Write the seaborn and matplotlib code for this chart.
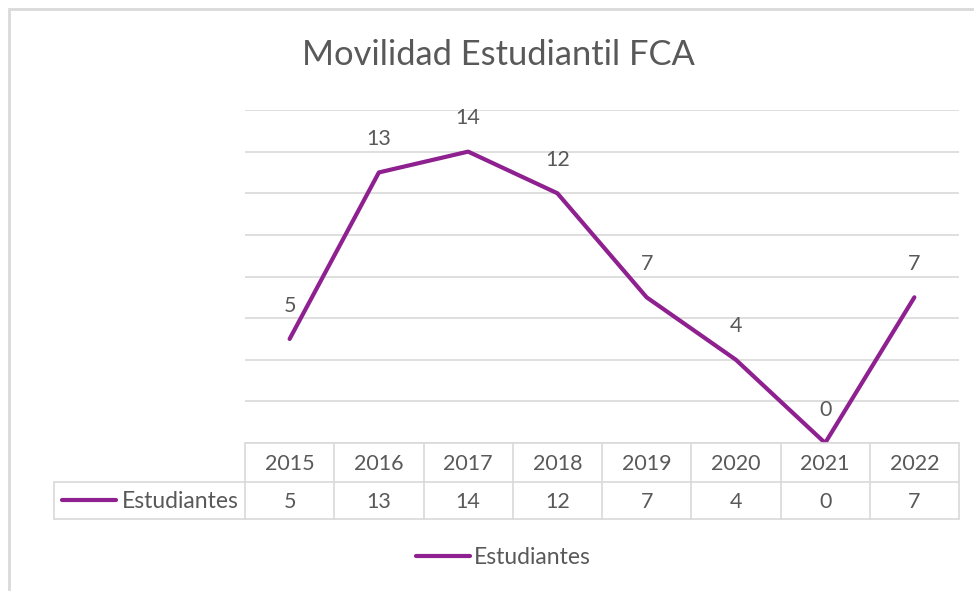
import matplotlib
matplotlib.use("Agg")
import matplotlib.pyplot as plt
import matplotlib.transforms as mtransforms
from matplotlib.lines import Line2D
from matplotlib.patches import Rectangle
import seaborn as sns
import pandas as pd

years = ["2015", "2016", "2017", "2018", "2019", "2020", "2021", "2022"]
estudiantes = [5, 13, 14, 12, 7, 4, 0, 7]
series_name = "Estudiantes"
title = "Movilidad Estudiantil FCA"

sns.set_style("white")
plt.rcParams["font.family"] = ["Lato", "DejaVu Sans"]

W, H = 974, 591
LINE = "#8E2090"
TXT = "#595959"
GRID = "#d9d9d9"

fig = plt.figure(figsize=(W / 100, H / 100), dpi=100)

def fx(px):
    return px / W

def fy(py):
    return 1 - py / H

ax_left, ax_right, ax_top, ax_bot = 245, 959, 110, 443
ax = fig.add_axes([fx(ax_left), fy(ax_bot), fx(ax_right - ax_left), (ax_bot - ax_top) / H])

df = pd.DataFrame({"Año": years, series_name: estudiantes})
sns.lineplot(data=df, x="Año", y=series_name, ax=ax, color=LINE, linewidth=3.0,
             solid_joinstyle="round", solid_capstyle="round", sort=False)
ax.set_xlim(-0.5, len(years) - 0.5)
ax.set_ylim(0, 16)
ax.set_yticks(range(0, 17, 2))
ax.grid(axis="y", color=GRID, linewidth=1.2)
ax.grid(axis="x", visible=False)
ax.tick_params(left=False, bottom=False, labelleft=False, labelbottom=False)
ax.set_xlabel("")
ax.set_ylabel("")
for s in ax.spines.values():
    s.set_visible(False)

for i, v in enumerate(estudiantes):
    ax.annotate(str(v), (i, v), xytext=(0, 24), textcoords="offset points",
                ha="center", va="center", fontsize=15.5, color=TXT)

# title
fig.text(fx(498), fy(55), title, ha="center", va="center", fontsize=24.8, color=TXT)

# data table
blend = mtransforms.blended_transform_factory(ax.transData, fig.transFigure)
y_top, y_mid, y_bot = 443, 482, 519
tab_left = 54

def hline(x0, x1, y):
    fig.add_artist(Line2D([fx(x0), fx(x1)], [fy(y), fy(y)], color=GRID, linewidth=1.2))

def vline(x, y0, y1):
    fig.add_artist(Line2D([fx(x), fx(x)], [fy(y0), fy(y1)], color=GRID, linewidth=1.2))

hline(ax_left, ax_right, y_top)
hline(tab_left, ax_right, y_mid)
hline(tab_left, ax_right, y_bot)
vline(tab_left, y_mid, y_bot)
n = len(years)
for k in range(n + 1):
    xpx = ax_left + k * (ax_right - ax_left) / n
    vline(xpx, y_top, y_bot)

for i, (yr, v) in enumerate(zip(years, estudiantes)):
    fig.text(i, fy((y_top + y_mid) / 2 + 1), yr, transform=blend, ha="center", va="center",
             fontsize=15.5, color=TXT)
    fig.text(i, fy((y_mid + y_bot) / 2 + 1), str(v), transform=blend, ha="center", va="center",
             fontsize=15.5, color=TXT)

# row label with legend key
fig.add_artist(Line2D([fx(62), fx(116)], [fy(500), fy(500)], color=LINE, linewidth=3.0,
                      solid_capstyle="round"))
fig.text(fx(122), fy(501), series_name, ha="left", va="center", fontsize=16.5, color=TXT)

# legend
fig.add_artist(Line2D([fx(416), fx(470)], [fy(556), fy(556)], color=LINE, linewidth=3.0,
                      solid_capstyle="round"))
fig.text(fx(474), fy(557), series_name, ha="left", va="center", fontsize=16.5, color=TXT)

# chart border
fig.add_artist(Rectangle((fx(9), fy(H + 20)), fx(W + 20), (H + 20 - 9) / H,
                         fill=False, edgecolor=GRID, linewidth=2))

fig.savefig("out.png", dpi=100)
